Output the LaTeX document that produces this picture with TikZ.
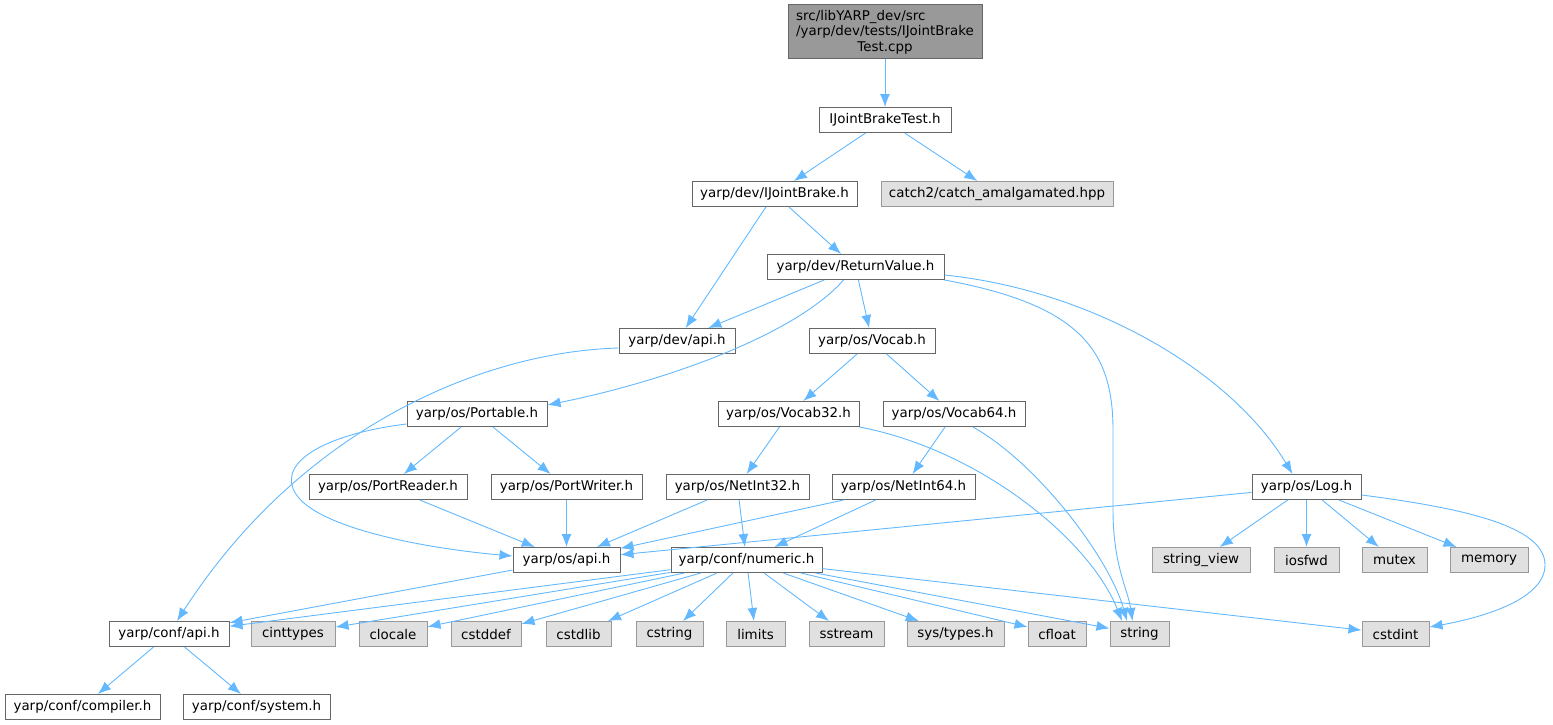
\documentclass[tikz,border=0pt]{standalone}
\usepackage{fontspec}
\setmainfont{DejaVu Sans}
\usetikzlibrary{arrows.meta}

\definecolor{edgeblue}{HTML}{63B8FF}
\definecolor{boxline}{HTML}{666666}
\definecolor{rootfill}{HTML}{999999}
\definecolor{sysfill}{HTML}{E0E0E0}
\definecolor{sysline}{HTML}{999999}

\begin{document}
\begin{tikzpicture}[x=1pt,y=-1pt,
    box/.style={draw=boxline, line width=1pt, fill=white, minimum height=25pt,
      inner sep=0pt, font=\fontsize{13.4}{15.5}\selectfont},
    sysbox/.style={box, draw=sysline, fill=sysfill},
    rootbox/.style={box, fill=rootfill, minimum height=54pt, align=center},
    edge/.style={draw=edgeblue, line width=0.9pt, -{Latex[length=13pt,width=10pt]}}]
                \useasboundingbox (0,0) rectangle (1553,725);

                % Define the nodes of the graph
                \node[rootbox, minimum width=194pt] (test) at (885,32)
                  {\rlap{src/libYARP\_dev/src}\phantom{/yarp/dev/tests/IJointBrake}\\/yarp/dev/tests/IJointBrake\\Test.cpp};
                \node[box, minimum width=132pt] (ijbt) at (885,120) {IJointBrakeTest.h};
                \node[box, minimum width=165pt] (ijb) at (774.5,194) {yarp/dev/IJointBrake.h};
                \node[sysbox, minimum width=232pt] (catch) at (997,194) {catch2/catch\_amalgamated.hpp};
                \node[box, minimum width=177pt] (rv) at (855.5,267) {yarp/dev/ReturnValue.h};
                \node[box, minimum width=116pt] (devapi) at (677,341) {yarp/dev/api.h};
                \node[box, minimum width=126pt] (vocab) at (872,341) {yarp/os/Vocab.h};
                \node[box, minimum width=140pt] (portable) at (477,414) {yarp/os/Portable.h};
                \node[box, minimum width=141pt] (vocab32) at (788.5,414) {yarp/os/Vocab32.h};
                \node[box, minimum width=142pt] (vocab64) at (954,414) {yarp/os/Vocab64.h};
                \node[box, minimum width=158pt] (reader) at (388,487) {yarp/os/PortReader.h};
                \node[box, minimum width=151pt] (writer) at (566.5,487) {yarp/os/PortWriter.h};
                \node[box, minimum width=143pt] (netint32) at (737.5,487) {yarp/os/NetInt32.h};
                \node[box, minimum width=143pt] (netint64) at (903.5,487) {yarp/os/NetInt64.h};
                \node[box, minimum width=109pt] (log) at (1306.5,487) {yarp/os/Log.h};
                \node[box, minimum width=107pt] (osapi) at (566.5,560) {yarp/os/api.h};
                \node[box, minimum width=151pt] (numeric) at (746.5,560) {yarp/conf/numeric.h};
                \node[sysbox, minimum width=98pt] (stringview) at (1201,560) {string\_view};
                \node[sysbox, minimum width=65pt] (iosfwd) at (1306.5,560) {iosfwd};
                \node[sysbox, minimum width=65pt] (mutex) at (1394.5,560) {mutex};
                \node[sysbox, minimum width=78pt] (memory) at (1489,560) {memory};
                \node[box, minimum width=120pt] (confapi) at (169,634) {yarp/conf/api.h};
                \node[sysbox, minimum width=84pt] (cinttypes) at (293,634) {cinttypes};
                \node[sysbox, minimum width=68pt] (clocale) at (393,634) {clocale};
                \node[sysbox, minimum width=70pt] (cstddef) at (486,634) {cstddef};
                \node[sysbox, minimum width=65pt] (cstdlib) at (578.5,634) {cstdlib};
                \node[sysbox, minimum width=67pt] (cstring) at (669.5,634) {cstring};
                \node[sysbox, minimum width=59pt] (limits) at (755.5,634) {limits};
                \node[sysbox, minimum width=75pt] (sstream) at (846.5,634) {sstream};
                \node[sysbox, minimum width=97pt] (systypes) at (955.5,634) {sys/types.h};
                \node[sysbox, minimum width=58pt] (cfloat) at (1057,634) {cfloat};
                \node[sysbox, minimum width=59pt] (string) at (1139.5,634) {string};
                \node[sysbox, minimum width=67pt] (cstdint) at (1395.5,634) {cstdint};
                \node[box, minimum width=155pt] (compiler) at (82.5,707) {yarp/conf/compiler.h};
                \node[box, minimum width=147pt] (system) at (256.5,707) {yarp/conf/system.h};

                % straight includes
                \foreach \from/\to in {test/ijbt, ijbt/ijb, ijbt/catch, ijb/devapi, ijb/rv,
                    rv/devapi, rv/vocab, vocab/vocab32, vocab/vocab64,
                    portable/reader, portable/writer, vocab32/netint32, vocab64/netint64,
                    reader/osapi, writer/osapi, netint32/osapi, netint32/numeric,
                    netint64/osapi, netint64/numeric,
                    log/osapi, log/stringview, log/iosfwd, log/mutex, log/memory,
                    osapi/confapi, numeric/confapi, numeric/cinttypes, numeric/clocale,
                    numeric/cstddef, numeric/cstdlib, numeric/cstring, numeric/limits,
                    numeric/sstream, numeric/systypes, numeric/cfloat, numeric/string,
                    numeric/cstdint, confapi/compiler, confapi/system}
                    \draw[edge] (\from) -- (\to);

                % curved includes
                \draw[edge] ([xshift=-12pt]rv.south) .. controls (800,330) and (680,378) .. ([yshift=9pt]portable.east);
                \draw[edge] (rv.south east) .. controls (1080,305) and (1113,350) .. (1113,430)
                  -- (1113,510) .. controls (1113,565) and (1128,590) .. ([xshift=-7pt]string.north);
                \draw[edge] ([yshift=-8pt]rv.east) .. controls (1090,290) and (1230,370) .. ([xshift=-14pt]log.north);
                \draw[edge] ([yshift=-7pt]devapi.west) .. controls (480,352) and (300,430) .. ([xshift=8pt]confapi.north);
                \draw[edge] ([yshift=-10pt]portable.west) .. controls (340,432) and (285,455) .. (292,485)
                  .. controls (300,525) and (420,548) .. ([yshift=4pt]osapi.west);
                \draw[edge] (vocab32.south east) .. controls (980,450) and (1090,540) .. ([xshift=-17.5pt]string.north);
                \draw[edge] ([xshift=19pt]vocab64.south) .. controls (1040,465) and (1110,560) .. ([xshift=-12.5pt]string.north);
                \draw[edge] ([yshift=-8pt]log.east) .. controls (1480,510) and (1545,530) .. (1545,565)
                  .. controls (1545,600) and (1480,618) .. ([yshift=7pt]cstdint.east);

            \end{tikzpicture}
\end{document}
